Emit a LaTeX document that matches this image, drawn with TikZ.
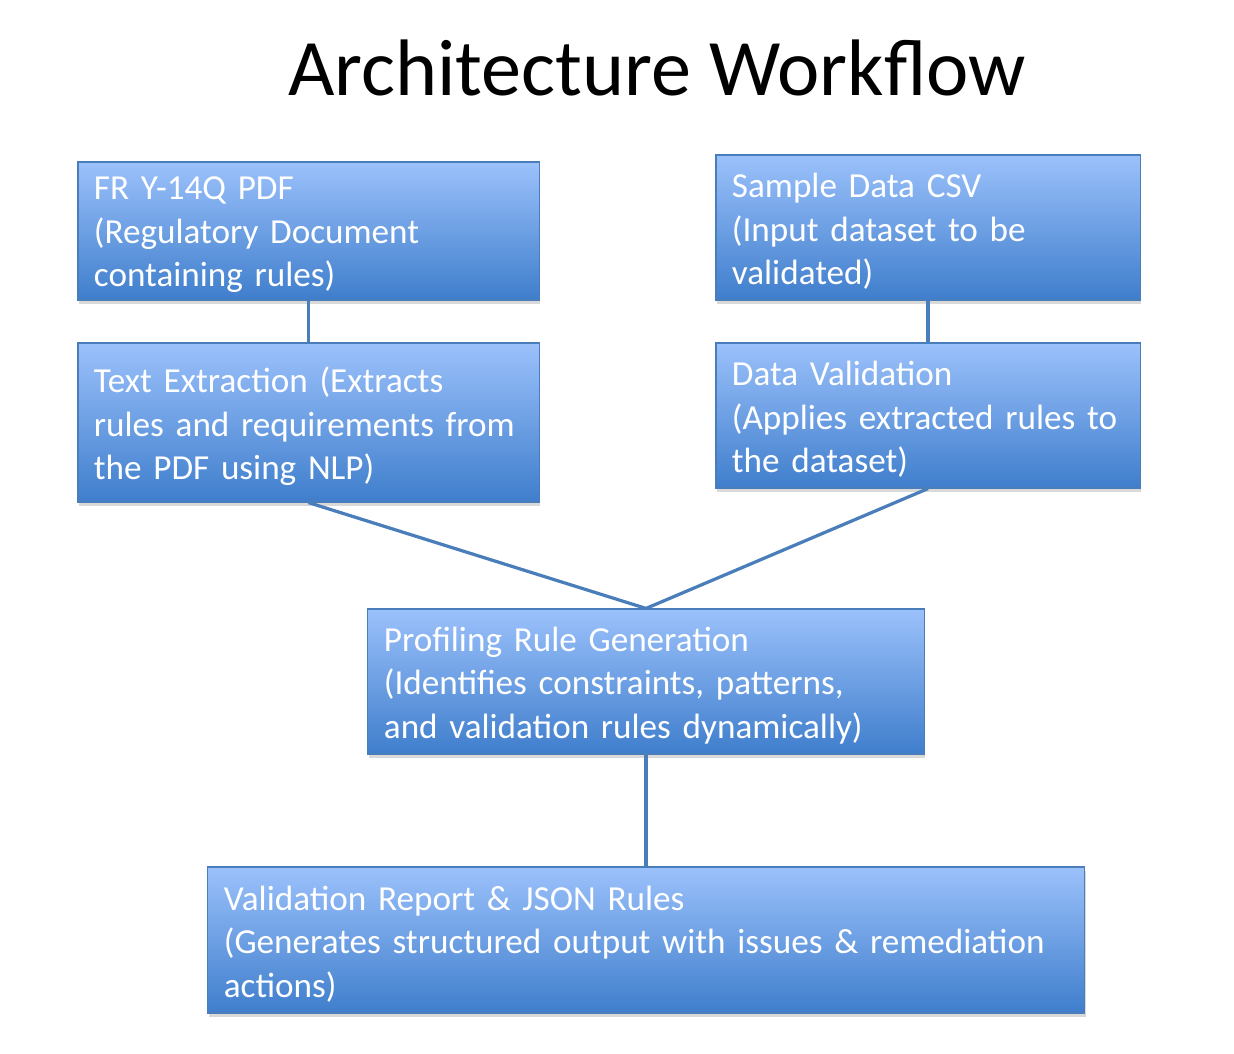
\documentclass[tikz,border=0pt]{standalone}
\usepackage{fontspec}
\setmainfont{Carlito}
\usepackage{tikz}
\usetikzlibrary{
	shadows,
	positioning
}
\definecolor{boxtop}{HTML}{9BC1FB}
\definecolor{boxbot}{HTML}{3F7ECC}
\definecolor{boxline}{HTML}{4A7EBB}
\definecolor{linkcol}{HTML}{4A7EBB}

\begin{document}
\begin{tikzpicture}
[x=0.025cm,y=-0.025cm,
block/.style={rectangle,draw=boxline,thick,top color=boxtop,bottom color=boxbot,
  text=white,align=left,inner xsep=0.4cm,inner ysep=0pt,
  font=\fontsize{25}{31}\selectfont,
  execute at end node={\endgraf\vspace*{-5.5pt}},
  drop shadow={shadow xshift=1pt,shadow yshift=-2.5pt,opacity=0.3}},
link/.style={draw=linkcol,line width=2.3pt}]
\useasboundingbox (0,0) rectangle (1234,1053);
\node (title) at (657,95) [anchor=base,font=\fontsize{57}{68}\selectfont] {Architecture Workflow};
\node (pdf) at (308.5,231) [block,text width=10.725cm,minimum height=3.45cm]
  {FR Y-14Q PDF\\(Regulatory Document\\containing rules)};
\node (csv) at (928,227.5) [block,text width=9.8cm,minimum height=3.625cm]
  {Sample Data CSV\\(Input dataset to be\\validated)};
\node (extract) at (308.5,422.5) [block,text width=10.725cm,minimum height=3.975cm]
  {Text Extraction (Extracts\\rules and requirements from\\the PDF using NLP)};
\node (validate) at (928,415.5) [block,text width=9.8cm,minimum height=3.625cm]
  {Data Validation\\(Applies extracted rules to\\the dataset)};
\node (profile) at (646,681.5) [block,text width=13.1cm,minimum height=3.625cm]
  {Profiling Rule Generation\\(Identifies constraints, patterns,\\and validation rules dynamically)};
\node (report) at (646,940) [block,text width=21.1cm,minimum height=3.65cm]
  {Validation Report \& JSON Rules\\(Generates structured output with issues \& remediation\\actions)};
\draw[link] (pdf.south) -- (extract.north);
\draw[link] (csv.south) -- (validate.north);
\draw[link] (extract.south) -- (profile.north);
\draw[link] (validate.south) -- (profile.north);
\draw[link] (profile.south) -- (report.north);
\end{tikzpicture}
\end{document}
